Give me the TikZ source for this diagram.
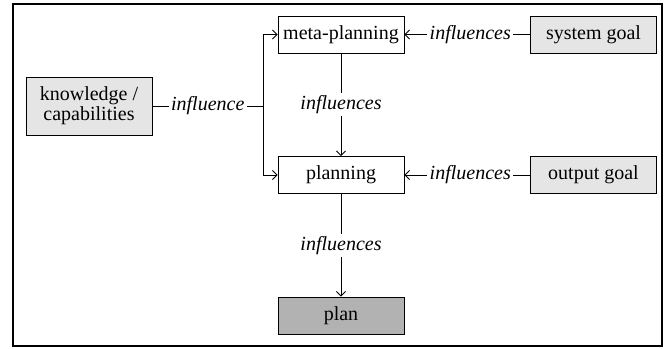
\documentclass[tikz,border=0pt]{standalone}
\usepackage{fontspec}
\setmainfont{Liberation Serif}
\usetikzlibrary{arrows.meta}
\definecolor{lightbox}{gray}{0.90}
\definecolor{darkbox}{gray}{0.70}
\begin{document}
\begin{tikzpicture}[x=1pt,y=-1pt,
  box/.style={draw, line width=0.9pt, minimum width=126pt, minimum height=37pt, inner sep=0pt, font=\fontsize{20}{22}\selectfont},
  lab/.style={fill=white, inner sep=2.5pt, font=\fontsize{20}{22}\selectfont\itshape},
  conn/.style={line width=0.9pt},
  arr/.style={conn, -{Straight Barb[length=4.5pt,width=9pt]}}]
\useasboundingbox (0,0) rectangle (671,348);
\draw[line width=2pt] (13,4) rectangle (662,346);
\node[box, fill=lightbox, minimum height=58pt, align=center] (know) at (89,106) {knowledge /\\[-2pt]capabilities};
\node[box] (meta) at (341,34.5) {meta-planning};
\node[box] (planning) at (341,175) {planning};
\node[box, fill=darkbox] (plan) at (341,315.5) {plan};
\node[box, fill=lightbox] (sys) at (593.5,34.5) {system goal};
\node[box, fill=lightbox] (out) at (593.5,175) {output goal};
\coordinate (split) at (263,106);
\draw[conn] (know.east) -- node[lab]{influence} (split);
\draw[arr] (split) |- (meta.west);
\draw[arr] (split) |- (planning.west);
\draw[arr] (meta.south) -- node[lab]{influences} (planning.north);
\draw[arr] (planning.south) -- node[lab]{influences} (plan.north);
\draw[arr] (sys.west) -- node[lab, xshift=3pt]{influences} (meta.east);
\draw[arr] (out.west) -- node[lab, xshift=3pt]{influences} (planning.east);
\end{tikzpicture}
\end{document}
